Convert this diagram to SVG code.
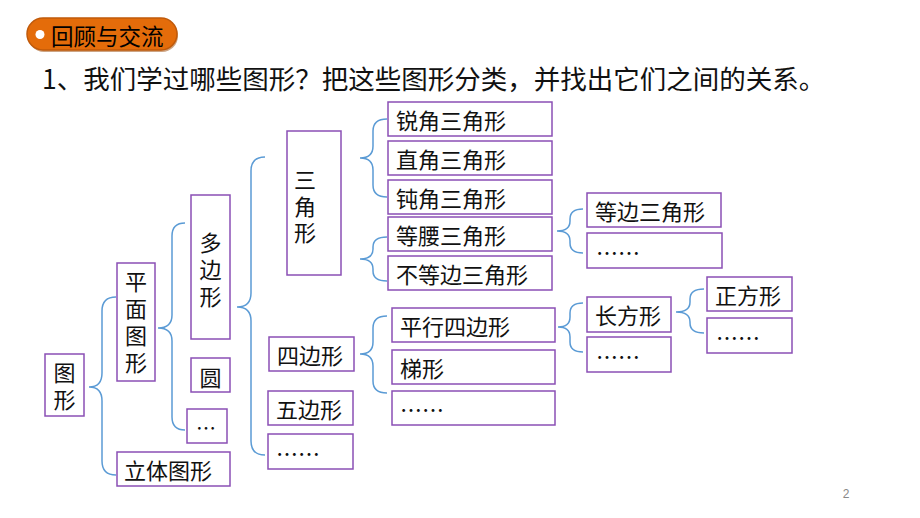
<svg xmlns="http://www.w3.org/2000/svg" width="920" height="518" viewBox="0 0 920 518">
<style>
.bx{fill:#fff;stroke:#8A4FB5;stroke-width:1.5}
.t{font-family:"Noto Sans CJK SC","Noto Sans",sans-serif;font-size:22px;fill:#111;dominant-baseline:central}
.v{font-family:"Noto Sans CJK SC","Noto Sans",sans-serif;font-size:22px;fill:#111;writing-mode:tb;letter-spacing:5px}
.m{text-anchor:middle}
.br{fill:none;stroke:#5B9BD5;stroke-width:1.5}
</style>
<rect width="920" height="518" fill="#fff"/>
<g id="title">
<rect x="28" y="20" width="150" height="32" rx="16" fill="#9C4A08" opacity="0.5"/>
<rect x="27" y="18" width="150" height="32" rx="16" fill="#E46C0A" stroke="#C05A0A" stroke-width="1.5"/>
<circle cx="40" cy="34.5" r="4.5" fill="#fff"/>
<text class="t" x="51" y="34.5" fill="#000" style="font-size:22.5px;fill:#000">回顾与交流</text>
</g>
<text class="t" x="42" y="77" style="font-size:26.5px">1、我们学过哪些图形？把这些图形分类，并找出它们之间的关系。</text>
<g id="connectors">
<path class="br" d="M116,297 Q102,297 102,311 L102,373 Q102,387 89,387 Q102,387 102,401 L102,461 Q102,475 116,475"/>
<path class="br" d="M185,223 Q172,223 172,236 L172,315 Q172,328 158,328 Q172,328 172,341 L172,417 Q172,430 185,430"/>
<path class="br" d="M265,157 Q251,157 251,171 L251,293 Q251,307 237,307 Q251,307 251,321 L251,441 Q251,455 265,455"/>
<path class="br" d="M387,119 Q373,119 373,131 L373,146 Q373,158 360,158 Q373,158 373,170 L373,185 Q373,197 387,197"/>
<path class="br" d="M387,237 Q373,237 373,247 L373,249 Q373,259 360,259 Q373,259 373,269 L373,271 Q373,281 387,281"/>
<path class="br" d="M387,316 Q373,316 373,328 L373,342 Q373,354 360,354 Q373,354 373,366 L373,381 Q373,393 387,393"/>
<path class="br" d="M583,209 Q570,209 570,219 L570,221 Q570,231 557,231 Q570,231 570,241 L570,243 Q570,253 583,253"/>
<path class="br" d="M583,303 Q570,303 570,313 L570,317 Q570,327 558,327 Q570,327 570,337 L570,342 Q570,352 583,352"/>
<path class="br" d="M704,289 Q690,289 690,299 L690,302 Q690,312 676,312 Q690,312 690,322 L690,323 Q690,333 704,333"/>
</g>
<g id="n-tuxing"><rect class="bx" x="45" y="354" width="39" height="62"/><text class="v" x="64.5" y="362">图形</text></g>
<g id="n-pingmian"><rect class="bx" x="117" y="263" width="38" height="118"/><text class="v" x="136" y="271">平面图形</text></g>
<g id="n-duobian"><rect class="bx" x="191" y="195" width="39" height="144"/><text class="v" x="210.5" y="232">多边形</text></g>
<g id="n-yuan"><rect class="bx" x="191" y="358" width="39" height="34"/><text class="t m" x="210.5" y="376">圆</text></g>
<g id="n-etc1"><rect class="bx" x="187" y="409" width="40" height="34"/><text class="t m" x="206" y="427" style="font-size:20px">…</text></g>
<g id="n-liti"><rect class="bx" x="117" y="452" width="113" height="34"/><text class="t" x="124" y="469">立体图形</text></g>
<g id="n-sanjiao"><rect class="bx" x="287" y="131" width="54" height="144"/><text class="v" x="305" y="169" style="letter-spacing:4.5px">三角形</text></g>
<g id="n-ruijiao"><rect class="bx" x="388" y="102" width="164" height="34"/><text class="t" x="396" y="119">锐角三角形</text></g>
<g id="n-zhijiao"><rect class="bx" x="388" y="141" width="164" height="34"/><text class="t" x="396" y="158">直角三角形</text></g>
<g id="n-dunjiao"><rect class="bx" x="388" y="180" width="164" height="34"/><text class="t" x="396" y="197">钝角三角形</text></g>
<g id="n-dengyao"><rect class="bx" x="388" y="217" width="164" height="34"/><text class="t" x="396" y="234">等腰三角形</text></g>
<g id="n-budengbian"><rect class="bx" x="388" y="256" width="164" height="34"/><text class="t" x="396" y="273">不等边三角形</text></g>
<g id="n-dengbian"><rect class="bx" x="587" y="193" width="134" height="34"/><text class="t" x="595" y="210">等边三角形</text></g>
<g id="n-etc2"><rect class="bx" x="587" y="233" width="135" height="35"/><text class="t" x="596" y="251">……</text></g>
<g id="n-sibian"><rect class="bx" x="269" y="337" width="85" height="34"/><text class="t" x="277" y="354">四边形</text></g>
<g id="n-wubian"><rect class="bx" x="268" y="391" width="85" height="34"/><text class="t" x="276" y="408">五边形</text></g>
<g id="n-etc3"><rect class="bx" x="268" y="434" width="85" height="35"/><text class="t" x="276" y="452">……</text></g>
<g id="n-pingxing"><rect class="bx" x="392" y="308" width="163" height="34"/><text class="t" x="400" y="325">平行四边形</text></g>
<g id="n-tixing"><rect class="bx" x="392" y="350" width="163" height="34"/><text class="t" x="400" y="367">梯形</text></g>
<g id="n-etc4"><rect class="bx" x="392" y="391" width="163" height="34"/><text class="t" x="400" y="408">……</text></g>
<g id="n-changfang"><rect class="bx" x="587" y="297" width="84" height="35"/><text class="t" x="595" y="314">长方形</text></g>
<g id="n-etc5"><rect class="bx" x="587" y="337" width="84" height="35"/><text class="t" x="596" y="355">……</text></g>
<g id="n-zhengfang"><rect class="bx" x="707" y="277" width="85" height="34"/><text class="t" x="715" y="294">正方形</text></g>
<g id="n-etc6"><rect class="bx" x="707" y="318" width="85" height="35"/><text class="t" x="716" y="336">……</text></g>
<text x="846" y="498" style="font-family:'Liberation Sans',sans-serif;font-size:12px;fill:#888" text-anchor="middle">2</text>
</svg>
